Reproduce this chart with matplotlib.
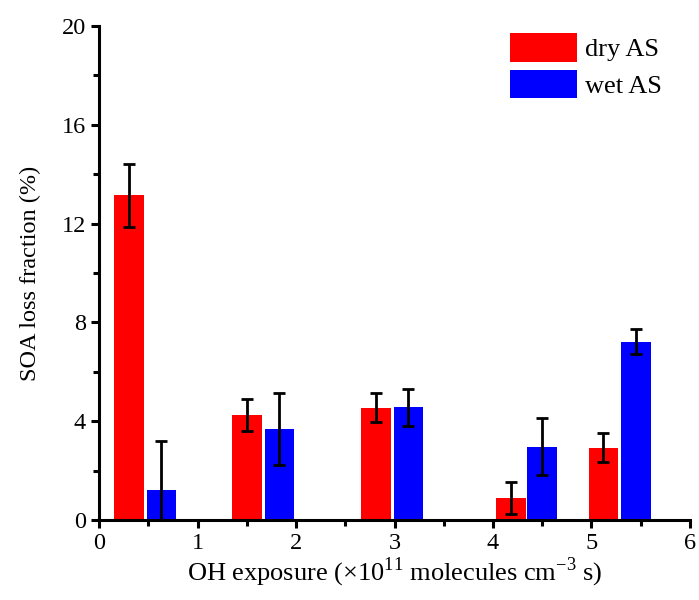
import matplotlib
matplotlib.use("Agg")
import matplotlib.pyplot as plt
from matplotlib.ticker import MultipleLocator

plt.rcParams['font.family'] = ['Liberation Serif', 'DejaVu Serif']
plt.rcParams['mathtext.fontset'] = 'custom'
plt.rcParams['mathtext.rm'] = 'Liberation Serif'

# OH exposure positions (x1e11 molecules cm-3 s) and loss fractions (%)
x_dry = [0.30, 1.50, 2.81, 4.18, 5.12]
x_wet = [0.63, 1.83, 3.14, 4.50, 5.45]
dry_as = [13.15, 4.25, 4.55, 0.90, 2.93]
dry_err = [1.27, 0.66, 0.58, 0.66, 0.58]
wet_as = [1.21, 3.70, 4.57, 2.97, 7.22]
wet_err = [2.0, 1.46, 0.74, 1.16, 0.50]

fig = plt.figure(figsize=(6.99, 6.0), dpi=100)
ax = fig.add_axes([0.142, 0.133, 0.845, 0.824])

ax.bar(x_dry, dry_as, width=0.30, color='#ff0000', label='dry AS', zorder=2)
ax.bar(x_wet, wet_as, width=0.30, color='#0000ff', label='wet AS', zorder=2)
ax.errorbar(x_dry, dry_as, yerr=dry_err, fmt='none', ecolor='black',
            elinewidth=2, capsize=4, capthick=2, zorder=3)
ax.errorbar(x_wet, wet_as, yerr=wet_err, fmt='none', ecolor='black',
            elinewidth=2, capsize=4, capthick=2, zorder=3)

ax.set_xlim(0, 6)
ax.set_ylim(0, 20)
ax.xaxis.set_major_locator(MultipleLocator(1))
ax.xaxis.set_minor_locator(MultipleLocator(0.5))
ax.yaxis.set_major_locator(MultipleLocator(4))
ax.yaxis.set_minor_locator(MultipleLocator(2))

for s in ['top', 'right']:
    ax.spines[s].set_visible(False)
for s in ['left', 'bottom']:
    ax.spines[s].set_linewidth(2.2)

ax.tick_params(which='major', direction='out', length=6, width=2.2, labelsize=17.5)
ax.tick_params(which='minor', direction='out', length=4, width=2.2)

ax.set_xlabel(r'OH exposure ($\times$10$^{11}$ molecules cm$^{-3}$ s)', fontsize=19, labelpad=1)
ax.set_ylabel('SOA loss fraction (%)', fontsize=17.5, labelpad=15)

ax.legend(loc='upper left', bbox_to_anchor=(510 / 699, 1 - 33 / 600),
          bbox_transform=fig.transFigure, frameon=False, fontsize=19,
          borderpad=0, borderaxespad=0,
          handlelength=2.55, handleheight=1.3, labelspacing=0.3, handletextpad=0.3)

fig.savefig('out.png', dpi=100)
